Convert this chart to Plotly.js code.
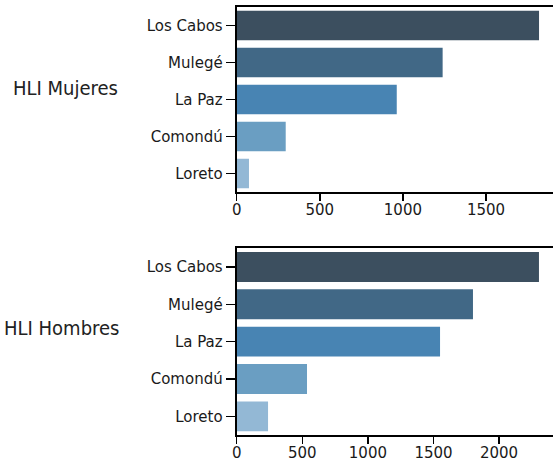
<!DOCTYPE html>
<html>
<head>
<meta charset="utf-8">
<script src="https://cdn.plot.ly/plotly-3.0.1.min.js"></script>
<style>html,body{margin:0;padding:0;background:#fff}#chart{width:553px;height:461px}</style>
</head>
<body>
<div id="chart"></div>
<script>
const municipios = ["Los Cabos", "Mulegé", "La Paz", "Comondú", "Loreto"];
const mujeres = [1819, 1239, 963, 295, 74];
const hombres = [2304, 1801, 1550, 536, 239];
const barColors = ["#3c4f5f", "#416886", "#4884b3", "#6a9ec2", "#93b8d5"];
const panelTitles = ["HLI Mujeres", "HLI Hombres"];

const tickFont = {family: "DejaVu Sans", size: 15, color: "#1a1a1a"};
const titleFont = {family: "DejaVu Sans Condensed, Liberation Sans, sans-serif", size: 20, color: "#222"};

const traces = [
  {type: "bar", orientation: "h", x: mujeres, y: municipios, xaxis: "x", yaxis: "y",
   marker: {color: barColors}, hoverinfo: "none", showlegend: false},
  {type: "bar", orientation: "h", x: hombres, y: municipios, xaxis: "x2", yaxis: "y2",
   marker: {color: barColors}, hoverinfo: "none", showlegend: false}
];

function xax(range, dtick, anchor) {
  return {
    domain: [0.428, 1], range: range, anchor: anchor, dtick: dtick,
    showline: true, linecolor: "#000", linewidth: 2, mirror: true,
    ticks: "outside", ticklen: 7, tickwidth: 1.5, tickcolor: "#000",
    ticklabelstandoff: -4,
    showgrid: false, zeroline: false, tickfont: tickFont
  };
}
function yax(domain, anchor) {
  return {
    domain: domain, anchor: anchor, type: "category",
    categoryorder: "array", categoryarray: municipios, autorange: "reversed",
    showline: true, linecolor: "#000", linewidth: 2, mirror: true,
    ticks: "outside", ticklen: 9, tickwidth: 1.5, tickcolor: "#000",
    showgrid: false, zeroline: false, tickfont: tickFont
  };
}

const layout = {
  width: 553, height: 461,
  margin: {l: 0, r: 0, t: 0, b: 0, pad: 0},
  paper_bgcolor: "#fff", plot_bgcolor: "#fff",
  bargap: 0.2,
  xaxis: xax([0, 1903], 500, "y"),
  yaxis: yax([0.5835, 0.9848], "x"),
  xaxis2: xax([0, 2411], 500, "y2"),
  yaxis2: yax([0.0564, 0.4614], "x2"),
  annotations: [
    {text: panelTitles[0], xref: "paper", yref: "paper", x: 65/553, y: 1 - 88/461,
     xanchor: "center", yanchor: "middle", showarrow: false, font: titleFont},
    {text: panelTitles[1], xref: "paper", yref: "paper", x: 61/553, y: 1 - 328/461,
     xanchor: "center", yanchor: "middle", showarrow: false, font: titleFont}
  ]
};

Plotly.newPlot("chart", traces, layout, {staticPlot: true, displayModeBar: false});
</script>
</body>
</html>
